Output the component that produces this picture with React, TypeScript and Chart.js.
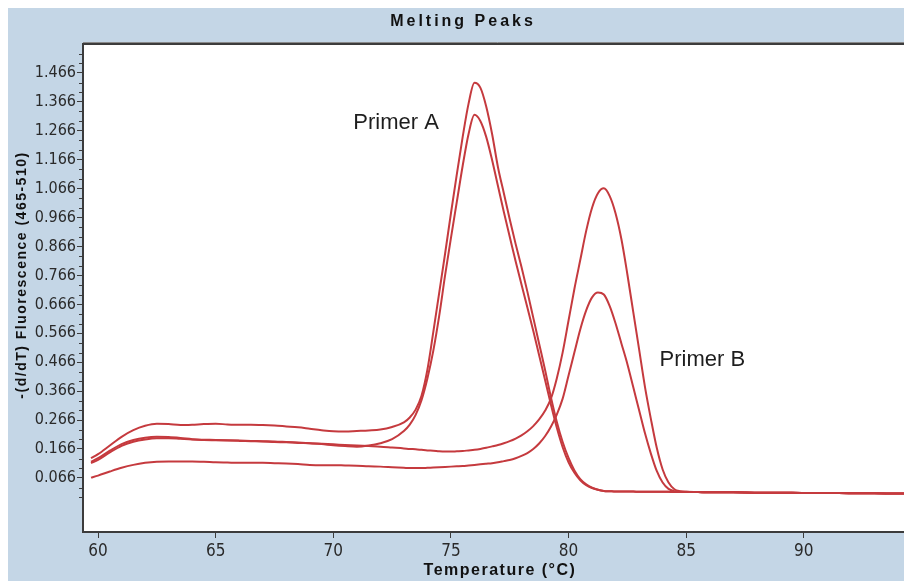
import React, { useEffect, useRef } from "react";
import { Chart, registerables } from "chart.js";

Chart.register(...registerables);

// ---------- data ----------
const temperatures = [
  59.7, 60, 60.5, 61, 61.5, 62, 62.5, 63, 63.5, 64,
  64.5, 65, 65.5, 66, 66.5, 67, 67.5, 68, 68.5, 69,
  69.5, 70, 70.5, 71, 71.5, 72, 72.5, 73, 73.25, 73.5,
  73.75, 74, 74.25, 74.5, 74.75, 75, 75.25, 75.5, 75.75, 76,
  76.25, 76.5, 76.75, 77, 77.25, 77.5, 77.75, 78, 78.25, 78.5,
  78.75, 79, 79.25, 79.5, 79.75, 80, 80.25, 80.5, 80.75, 81,
  81.25, 81.5, 81.75, 82, 82.25, 82.5, 82.75, 83, 83.25, 83.5,
  83.75, 84, 84.25, 84.5, 84.75, 85, 85.5, 86, 87, 88,
  89, 90, 91, 92, 93, 94, 94.6,
];

const primerA1 = [
  0.134, 0.148, 0.178, 0.208, 0.231, 0.246, 0.253, 0.252, 0.249, 0.250,
  0.252, 0.253, 0.251, 0.250, 0.250, 0.249, 0.247, 0.244, 0.241, 0.236,
  0.231, 0.227, 0.226, 0.228, 0.230, 0.233, 0.242, 0.258, 0.275, 0.302,
  0.350, 0.440, 0.570, 0.705, 0.840, 0.980, 1.115, 1.245, 1.360, 1.432,
  1.415, 1.350, 1.255, 1.140, 1.050, 0.960, 0.875, 0.795, 0.710, 0.620,
  0.530, 0.440, 0.345, 0.260, 0.190, 0.135, 0.092, 0.062, 0.044, 0.032,
  0.025, 0.021, 0.020, 0.019, 0.019, 0.019, 0.019, 0.018, 0.018, 0.018,
  0.018, 0.018, 0.018, 0.017, 0.017, 0.017, 0.017, 0.016, 0.016, 0.015,
  0.015, 0.014, 0.014, 0.013, 0.013, 0.012, 0.012,
];

const primerA2 = [
  0.122, 0.134, 0.160, 0.183, 0.197, 0.205, 0.208, 0.207, 0.204, 0.200,
  0.197, 0.196, 0.195, 0.194, 0.193, 0.192, 0.190, 0.189, 0.187, 0.186,
  0.183, 0.179, 0.176, 0.174, 0.178, 0.186, 0.200, 0.228, 0.250, 0.284,
  0.335, 0.410, 0.505, 0.625, 0.765, 0.895, 1.020, 1.145, 1.255, 1.321,
  1.300, 1.245, 1.165, 1.075, 0.985, 0.900, 0.815, 0.735, 0.655, 0.575,
  0.490, 0.405, 0.320, 0.240, 0.172, 0.120, 0.084, 0.058, 0.041, 0.031,
  0.025, 0.021, 0.020, 0.019, 0.019, 0.019, 0.019, 0.018, 0.018, 0.018,
  0.018, 0.018, 0.018, 0.017, 0.017, 0.017, 0.017, 0.016, 0.016, 0.015,
  0.015, 0.014, 0.014, 0.013, 0.013, 0.012, 0.012,
];

const primerB1 = [
  0.117, 0.128, 0.154, 0.177, 0.191, 0.199, 0.203, 0.203, 0.201, 0.199,
  0.198, 0.197, 0.196, 0.195, 0.194, 0.193, 0.192, 0.190, 0.188, 0.186,
  0.184, 0.182, 0.180, 0.178, 0.176, 0.174, 0.171, 0.168, 0.166, 0.165,
  0.163, 0.161, 0.160, 0.158, 0.157, 0.157, 0.158, 0.159, 0.161, 0.163,
  0.166, 0.170, 0.175, 0.180, 0.186, 0.193, 0.202, 0.213, 0.227, 0.245,
  0.268, 0.298, 0.340, 0.410, 0.500, 0.610, 0.720, 0.820, 0.920, 1.000,
  1.050, 1.067, 1.040, 0.980, 0.890, 0.770, 0.640, 0.510, 0.380, 0.270,
  0.170, 0.095, 0.050, 0.027, 0.020, 0.018, 0.017, 0.016, 0.016, 0.015,
  0.015, 0.014, 0.014, 0.013, 0.013, 0.012, 0.012,
];

const primerB2 = [
  0.067, 0.074, 0.088, 0.101, 0.111, 0.118, 0.122, 0.123, 0.123, 0.123,
  0.122, 0.120, 0.119, 0.118, 0.118, 0.118, 0.117, 0.116, 0.114, 0.111,
  0.110, 0.110, 0.109, 0.108, 0.106, 0.105, 0.103, 0.101, 0.100, 0.100,
  0.100, 0.101, 0.102, 0.103, 0.104, 0.105, 0.106, 0.107, 0.109, 0.111,
  0.113, 0.115, 0.117, 0.120, 0.124, 0.128, 0.134, 0.142, 0.152, 0.166,
  0.185, 0.210, 0.243, 0.285, 0.340, 0.420, 0.500, 0.580, 0.645, 0.690,
  0.707, 0.700, 0.660, 0.600, 0.530, 0.460, 0.380, 0.300, 0.220, 0.150,
  0.090, 0.050, 0.028, 0.020, 0.018, 0.018, 0.017, 0.016, 0.016, 0.015,
  0.015, 0.014, 0.014, 0.013, 0.013, 0.012, 0.012,
];

const yTickValues = [
  0.066, 0.166, 0.266, 0.366, 0.466, 0.566, 0.666, 0.766,
  0.866, 0.966, 1.066, 1.166, 1.266, 1.366, 1.466,
];
const xTickValues = [60, 65, 70, 75, 80, 85, 90];

const chartTitle = "Melting Peaks";
const xAxisTitle = "Temperature (°C)";
const yAxisTitle = "-(d/dT) Fluorescence (465-510)";

const primerLabels = [
  { text: "Primer A", x: 70.85, y: 1.293 },
  { text: "Primer B", x: 83.87, y: 0.474 },
];

// ---------- styles ----------
const W = 904;
const H = 573;
const BG = "#c4d6e6";
const AXIS = "#3c3c3c";
const LINE = "#c53a3e";
const TICK_FONT = "'Liberation Sans Narrow', 'DejaVu Sans Condensed', 'Liberation Sans', sans-serif";
const BOLD_FONT = "'Liberation Sans', Arial, sans-serif";

const series = [primerA1, primerA2, primerB1, primerB2];

const decorPlugin = {
  id: "decor",
  beforeDraw(chart: any) {
    const { ctx, chartArea: a, width, height } = chart;
    ctx.save();
    ctx.fillStyle = BG;
    ctx.fillRect(0, 0, width, height);
    ctx.fillStyle = "#ffffff";
    ctx.fillRect(a.left, a.top, a.right - a.left, a.bottom - a.top);
    ctx.restore();
  },
  afterDatasetsDraw(chart: any) {
    const { ctx } = chart;
    const xs = chart.scales.x;
    const ys = chart.scales.y;
    ctx.save();
    ctx.fillStyle = "#1e1e1e";
    ctx.font = `22px ${BOLD_FONT}`;
    ctx.textAlign = "left";
    ctx.textBaseline = "middle";
    primerLabels.forEach((p) => {
      ctx.fillText(p.text, xs.getPixelForValue(p.x), ys.getPixelForValue(p.y));
    });
    ctx.restore();
  },
  afterDraw(chart: any) {
    const { ctx, chartArea: a, width } = chart;
    const ys = chart.scales.y;
    ctx.save();
    // top border
    ctx.strokeStyle = AXIS;
    ctx.lineWidth = 2;
    ctx.beginPath();
    ctx.moveTo(a.left - 1, a.top);
    ctx.lineTo(a.right, a.top);
    ctx.stroke();
    ctx.strokeStyle = "#8a8a8a";
    ctx.lineWidth = 1;
    ctx.beginPath();
    ctx.moveTo(a.left, a.top - 1.5);
    ctx.lineTo(a.right, a.top - 1.5);
    ctx.stroke();
    // minor ticks on y axis
    ctx.strokeStyle = AXIS;
    ctx.lineWidth = 1;
    const step = 0.1 / 3;
    for (let k = -3; k <= 45; k++) {
      if (k % 3 === 0) continue;
      const v = 0.066 + k * step;
      if (v < ys.min || v > ys.max) continue;
      const py = Math.round(ys.getPixelForValue(v)) + 0.5;
      ctx.beginPath();
      ctx.moveTo(a.left - 4, py);
      ctx.lineTo(a.left, py);
      ctx.stroke();
    }
    // titles
    ctx.fillStyle = "#111";
    ctx.textAlign = "center";
    ctx.textBaseline = "middle";
    (ctx as any).letterSpacing = "3px";
    ctx.font = `bold 16px ${BOLD_FONT}`;
    ctx.fillText(chartTitle, width / 2 + 3, 14);
    (ctx as any).letterSpacing = "1.5px";
    ctx.font = `bold 16px ${BOLD_FONT}`;
    ctx.fillText(xAxisTitle, 492, 563);
    ctx.save();
    ctx.translate(14, 267);
    ctx.rotate(-Math.PI / 2);
    ctx.font = `bold 14px ${BOLD_FONT}`;
    ctx.fillText(yAxisTitle, 0, 0);
    ctx.restore();
    (ctx as any).letterSpacing = "0px";
    ctx.restore();
  },
};

export default function App() {
  const ref = useRef<HTMLCanvasElement | null>(null);

  useEffect(() => {
    if (!ref.current) return;
    const chart = new Chart(ref.current, {
      type: "line",
      data: {
        datasets: series.map((s, i) => ({
          label: `curve ${i + 1}`,
          data: temperatures.map((t, j) => ({ x: t, y: s[j] })),
          borderColor: LINE,
          borderWidth: 2,
          pointRadius: 0,
          fill: false,
          cubicInterpolationMode: "monotone" as const,
        })),
      },
      options: {
        responsive: false,
        animation: false,
        devicePixelRatio: 1,
        layout: { padding: { top: 36, left: 0, right: 0, bottom: 0 } },
        plugins: {
          legend: { display: false },
          title: { display: false },
          tooltip: { enabled: false },
        },
        scales: {
          x: {
            type: "linear",
            min: 59.36,
            max: 94.6,
            afterBuildTicks: (s: any) => {
              s.ticks = xTickValues.map((v) => ({ value: v }));
            },
            afterFit: (s: any) => {
              s.height = 49;
            },
            ticks: {
              autoSkip: false,
              maxRotation: 0,
              padding: 3,
              color: "#2a2a2a",
              font: { family: TICK_FONT, size: 17 },
              callback: (v: any) => String(v),
            },
            grid: {
              drawOnChartArea: false,
              drawTicks: true,
              tickLength: 6,
              tickColor: AXIS,
              tickWidth: 1,
            },
            border: { display: true, color: AXIS, width: 2 },
          },
          y: {
            type: "linear",
            min: -0.121,
            max: 1.566,
            afterBuildTicks: (s: any) => {
              s.ticks = yTickValues.map((v) => ({ value: v }));
            },
            afterFit: (s: any) => {
              s.width = 75;
            },
            ticks: {
              autoSkip: false,
              padding: 1,
              color: "#2a2a2a",
              font: { family: TICK_FONT, size: 16 },
              callback: (v: any) => Number(v).toFixed(3),
            },
            grid: {
              drawOnChartArea: false,
              drawTicks: true,
              tickLength: 6,
              tickColor: AXIS,
              tickWidth: 1,
            },
            border: { display: true, color: AXIS, width: 2 },
          },
        },
      },
      plugins: [decorPlugin],
    });
    return () => chart.destroy();
  }, []);

  return (
    <div style={{ width: W, height: H }}>
      <canvas ref={ref} width={W} height={H} style={{ display: "block" }} />
    </div>
  );
}
